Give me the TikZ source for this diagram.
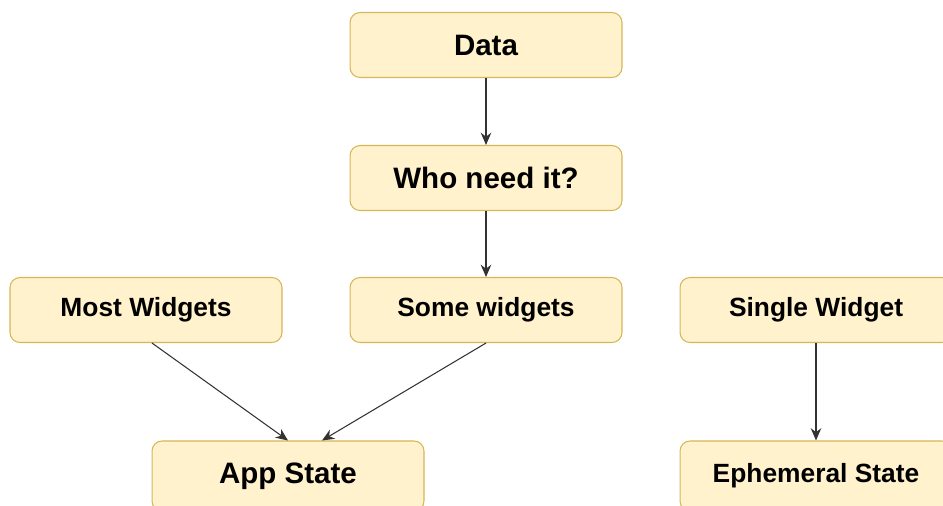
\documentclass[tikz,border=0pt]{standalone}
\usepackage{fontspec}
\setsansfont{Liberation Sans}
\usepackage{tikz}
\usetikzlibrary{arrows.meta}
\usetikzlibrary{calc}
\definecolor{BoxFill}{HTML}{FFF2CC}
\definecolor{BoxLine}{HTML}{D6B656}
\definecolor{ArrowGray}{HTML}{333333}

\begin{document}
\begin{tikzpicture}[x=0.02cm, y=-0.02cm,
        box/.style={draw=BoxLine, fill=BoxFill, rounded corners=0.2cm, line width=0.6pt,
            minimum width=5.44cm, minimum height=1.3cm, font=\sffamily\bfseries\fontsize{15}{18}\selectfont},
        bigbox/.style={box, font=\sffamily\bfseries\fontsize{16.8}{20}\selectfont},
        link/.style={draw=ArrowGray, line width=0.6pt, -{Stealth[length=7pt, width=6pt]}}]
        % Fix the frame of the picture
        \useasboundingbox (0,0) rectangle (943,505);
        \clip (0,0) rectangle (943,505);

        % Top column
        \node[bigbox] (data) at (486, 45) {Data};
        \node[bigbox] (who) at (486, 178) {Who need it?};

        % Middle row
        \node[box] (most) at (146, 310) {Most Widgets};
        \node[box] (some) at (486, 310) {Some widgets};
        \node[box] (single) at (816, 310) {Single Widget};

        % Bottom row (cut by the frame)
        \node[bigbox, minimum height=1.4cm] (app) at (288, 476) {App State};
        \node[box, minimum height=1.4cm] (ephemeral) at (816, 476) {Ephemeral State};

        % Draw the arrows
        \draw[link] (data) -- (who);
        \draw[link] (who) -- (some);
        \draw[link] ([xshift=0.12cm]most.south) -- (app.north);
        \draw[link] (some.south) -- ([xshift=0.68cm]app.north);
        \draw[link] (single) -- (ephemeral);
    \end{tikzpicture}
\end{document}
